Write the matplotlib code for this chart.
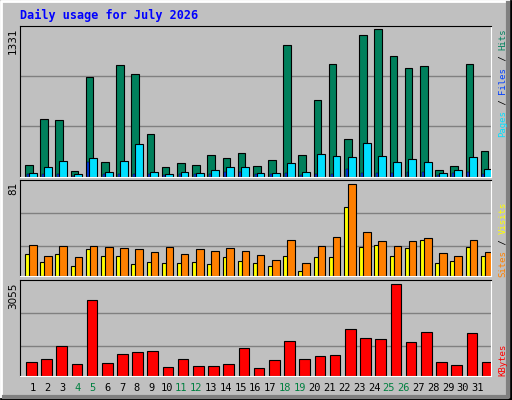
import matplotlib
matplotlib.use("Agg")
import matplotlib.pyplot as plt
import numpy as np

days = list(range(1, 32))
weekend = [4, 5, 11, 12, 18, 19, 25, 26]

hits = [103, 508, 499, 47, 878, 126, 984, 905, 376, 85, 120, 103, 191, 165, 209,
        94, 147, 1161, 191, 676, 993, 332, 1249, 1302, 1064, 958, 975, 59, 94, 993, 226]
pages = [32, 85, 138, 23, 165, 41, 138, 288, 41, 23, 41, 32, 59, 85, 85,
         32, 32, 120, 41, 200, 182, 173, 297, 182, 129, 156, 129, 32, 59, 173, 68]
files = [24, 20, 24, 10, 129, 20, 20, 20, 20, 15, 20, 20, 20, 40, 40,
         20, 20, 32, 15, 24, 24, 68, 32, 32, 32, 40, 40, 15, 32, 40, 24]
visits = [19.4, 12.3, 19.4, 8.8, 23.8, 17.6, 17.6, 10.6, 12.3, 11.4, 11.4, 12.3, 10.6, 16.7, 13.2,
          11.4, 8.8, 17.6, 4.4, 16.7, 16.7, 60.8, 25.5, 27.3, 17.6, 24.7, 31.7, 11.4, 13.2, 25.5, 17.6]
sites = [27.3, 17.6, 26.4, 16.7, 26.4, 25.5, 24.7, 23.8, 21.1, 25.5, 19.4, 23.8, 22.0, 24.7, 22.0,
         18.5, 14.1, 31.7, 11.4, 26.4, 34.3, 81, 38.7, 30.8, 26.4, 30.8, 33.5, 20.3, 17.6, 31.7, 21.1]
kbytes = [468, 546, 981, 379, 2520, 413, 714, 780, 814, 279, 546, 312, 312, 379, 914,
          245, 513, 1148, 546, 647, 680, 1550, 1249, 1215, 3055, 1115, 1450, 468, 346, 1416, 446]

BG = "#C0C0C0"
GRID = "#808080"
MONO = "DejaVu Sans Mono"

fig = plt.figure(figsize=(5.12, 4), dpi=100, facecolor=BG)
W, H = 512.0, 400.0

def px_axes(x0, y0, x1, y1):
    ax = fig.add_axes([x0 / W, 1 - y1 / H, (x1 - x0) / W, (y1 - y0) / H])
    ax.set_facecolor(BG)
    ax.set_xlim(0, 31)
    ax.set_xticks([]); ax.set_yticks([])
    for s in ["left", "top"]:
        ax.spines[s].set_color("black")
    for s in ["right", "bottom"]:
        ax.spines[s].set_color("white")
    return ax

x = np.arange(31)
ek = dict(edgecolor="black", linewidth=0.8, align="edge")

# top panel: hits / files / pages
ax1 = px_axes(20, 25.7, 491, 176.7)
ax1.set_ylim(0, 1331)
for g in (1331 / 3, 1331 * 2 / 3):
    ax1.axhline(g, color=GRID, linewidth=1, zorder=0)
ax1.bar(x + 0.33, hits, width=0.5, color="#00805C", **ek)
ax1.bar(x + 0.57, pages, width=0.52, color="#00E0FF", **ek)
ax1.bar(x + 0.44, files, width=0.13, color="#0040FF", edgecolor="black", linewidth=0.3, align="edge")

# middle panel: visits / sites
ax2 = px_axes(20, 180.3, 491, 276.3)
ax2.set_ylim(0, 84.5)
for g in (26.4, 55.5):
    ax2.axhline(g, color=GRID, linewidth=1, zorder=0)
ax2.bar(x + 0.33, visits, width=0.3, color="#FFFF00", **ek)
ax2.bar(x + 0.59, sites, width=0.5, color="#FF8000", **ek)

# bottom panel: kbytes
ax3 = px_axes(20, 280.3, 491, 375.7)
ax3.set_ylim(0, 3189)
for g in (981, 2085):
    ax3.axhline(g, color=GRID, linewidth=1, zorder=0)
ax3.bar(x + 0.39, kbytes, width=0.7, color="#FF0000", **ek)

# day labels
for i, d in enumerate(days):
    xp = (33 + i * 14.83) / W
    fig.text(xp, 1 - 388 / H, str(d), ha="center", va="center", fontsize=7.5,
             family=MONO, color="#008040" if d in weekend else "black")

# title
fig.text(20 / W, 1 - 15 / H, "Daily usage for July 2026", ha="left", va="center",
         fontsize=8.5, family=MONO, weight="bold", color="#0000FF")

# max labels at left
for label, ytop in [("1331", 27), ("81", 182), ("3055", 283)]:
    fig.text(13 / W, 1 - ytop / H, label, rotation=90, ha="center", va="top",
             fontsize=7.5, family="DejaVu Sans", color="black")

# right legends, rotated text, bottom to top
def legend(parts, ybottom):
    y = ybottom
    fs = 6.5
    step = fs * 0.602 * 100 / 72
    for txt, col in parts:
        fig.text(503 / W, 1 - y / H, txt, rotation=90, ha="center", va="bottom",
                 fontsize=fs, family=MONO, color=col)
        y -= step * len(txt)

legend([("Pages", "#00E0FF"), (" / ", "black"), ("Files", "#0040FF"),
        (" / ", "black"), ("Hits", "#00805C")], 137)
legend([("Sites", "#FF8000"), (" / ", "black"), ("Visits", "#FFFF00")], 277)
legend([("KBytes", "#FF0000")], 376)

# 3d frame
fig.add_artist(plt.Line2D([0.002, 0.002, 0.998], [0.002, 0.998, 0.998],
                          transform=fig.transFigure, color="white", linewidth=2))
fig.add_artist(plt.Line2D([0.002, 0.998, 0.998], [0.002, 0.002, 0.998],
                          transform=fig.transFigure, color="black", linewidth=2))
fig.add_artist(plt.Line2D([0.008, 0.992, 0.992], [0.008, 0.008, 0.992],
                          transform=fig.transFigure, color="#808080", linewidth=3))

fig.savefig("out.png", dpi=100, facecolor=BG)
